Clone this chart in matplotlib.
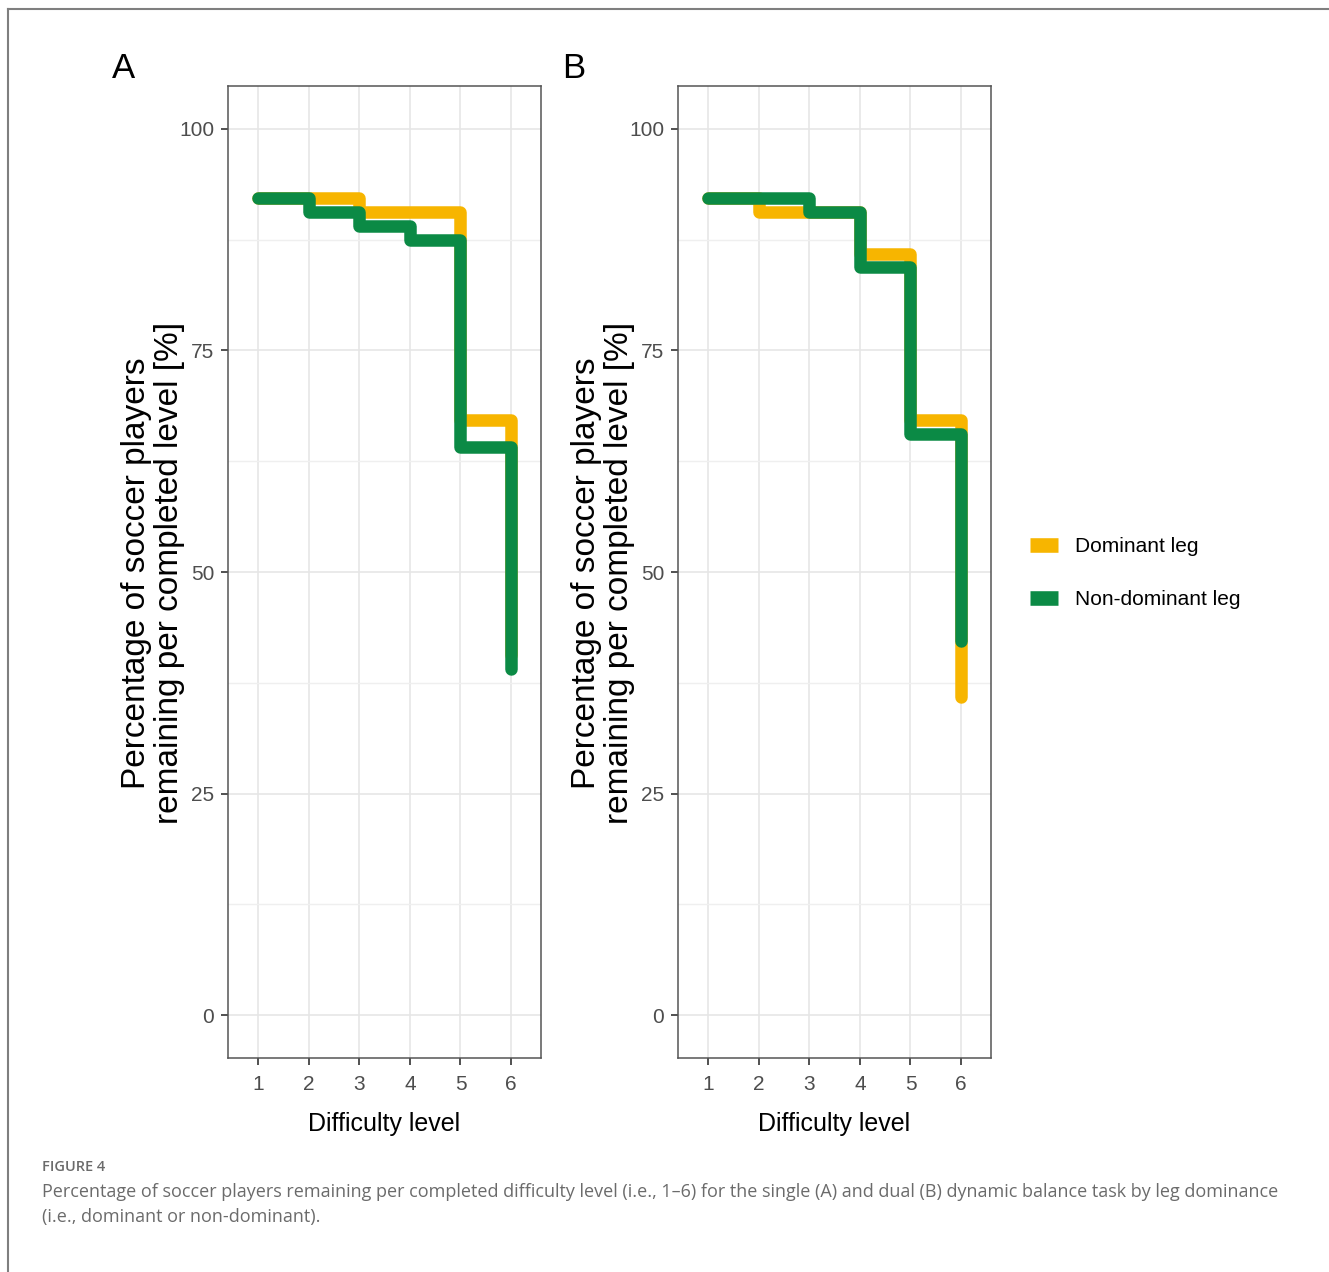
import matplotlib
matplotlib.use("Agg")
import matplotlib.pyplot as plt
from matplotlib.lines import Line2D
from matplotlib.ticker import MultipleLocator

# ---- data (percent of players remaining) ----
levels = [1, 2, 3, 4, 5, 6]
a_dominant = [92.2, 92.2, 90.6, 90.6, 67.2, 40.6]
a_nondominant = [92.2, 90.6, 89.1, 87.5, 64.1, 39.1]
b_dominant = [92.2, 90.6, 90.6, 85.9, 67.2, 35.9]
b_nondominant = [92.2, 92.2, 90.6, 84.4, 65.6, 42.2]
y_ticks = [0, 25, 50, 75, 100]
series_labels = ["Dominant leg", "Non-dominant leg"]
panel_labels = ["A", "B"]
ylabel_lines = ["Percentage of soccer players", "remaining per completed level [%]"]

ORANGE = "#F7B500"
GREEN = "#0B8A45"
SANS = ["Liberation Sans", "DejaVu Sans"]

fig = plt.figure(figsize=(13.29, 12.72), dpi=100)

# outer frame lines (top and left)
fig.add_artist(Line2D([7.5/1329, 7.5/1329], [0, 1 - 8.5/1272], color="#7f7f7f", lw=1.5, transform=fig.transFigure))
fig.add_artist(Line2D([7.5/1329, 1], [1 - 8.5/1272, 1 - 8.5/1272], color="#7f7f7f", lw=1.5, transform=fig.transFigure))

panels = [
    (228, a_dominant, a_nondominant),
    (678, b_dominant, b_nondominant),
]

lw = 9
for i, (left_px, dom, nondom) in enumerate(panels):
    ax = fig.add_axes([left_px/1329, 1 - 1058/1272, 313/1329, 972/1272])
    ax.set_xlim(0.41, 6.59)
    ax.set_ylim(-4.85, 104.85)
    ax.set_xticks(levels)
    ax.set_yticks(y_ticks)
    ax.yaxis.set_minor_locator(MultipleLocator(12.5))
    ax.grid(True, which="major", color="#e6e6e6", lw=1.2)
    ax.grid(True, which="minor", axis="y", color="#efefef", lw=1.0)
    ax.set_axisbelow(True)
    for sp in ax.spines.values():
        sp.set_color("#555555")
        sp.set_linewidth(1.1)
    ax.tick_params(axis="both", which="major", length=5, width=1.2, color="#333333",
                   labelcolor="#4d4d4d", labelsize=15)
    ax.tick_params(axis="x", pad=7)
    ax.tick_params(axis="y", pad=5)
    ax.tick_params(axis="y", which="minor", length=0)
    for lab in ax.get_xticklabels() + ax.get_yticklabels():
        lab.set_family(SANS)
    ax.step(levels, dom, where="post", color=ORANGE, lw=lw,
            solid_capstyle="round", solid_joinstyle="round", zorder=3)
    ax.step(levels, nondom, where="post", color=GREEN, lw=lw,
            solid_capstyle="round", solid_joinstyle="round", zorder=4)
    ax.set_xlabel("Difficulty level", family=SANS, fontsize=18, labelpad=13)
    for txt, base_px in zip(ylabel_lines, (145, 178)):
        fig.text((left_px - 228 + base_px)/1329, 1 - 573/1272, txt,
                 family=SANS, fontsize=24, rotation=90, rotation_mode="anchor",
                 ha="center", va="baseline")
    fig.text((left_px - 104)/1329, 1 - 68/1272, panel_labels[i], family=SANS,
             fontsize=25, ha="center", va="center")

# legend
handles = [Line2D([0], [0], color=ORANGE, lw=10.5, solid_capstyle="butt"),
           Line2D([0], [0], color=GREEN, lw=10.5, solid_capstyle="butt")]
leg = fig.legend(handles, series_labels, loc="center left",
                 bbox_to_anchor=(1030/1329, 1 - 573/1272), frameon=False,
                 prop={"family": SANS, "size": 15}, handlelength=1.35,
                 labelspacing=1.65, handletextpad=0.8, borderpad=0, borderaxespad=0)

# caption
fig.text(42/1329, 1 - 1167/1272, "FIGURE 4", family=["Open Sans", "DejaVu Sans"],
         fontsize=10.5, fontweight="semibold", color="#6b6b6b", va="center")
fig.text(42/1329, 1 - 1192/1272,
         "Percentage of soccer players remaining per completed difficulty level (i.e., 1\u20136) for the single "
         "(A) and dual (B) dynamic balance task by leg dominance",
         family=["Open Sans", "DejaVu Sans"], fontsize=13, color="#6b6b6b", va="center")
fig.text(42/1329, 1 - 1217/1272, "(i.e., dominant or non-dominant).",
         family=["Open Sans", "DejaVu Sans"], fontsize=13, color="#6b6b6b", va="center")

fig.savefig("out.png", dpi=100, facecolor="white")
